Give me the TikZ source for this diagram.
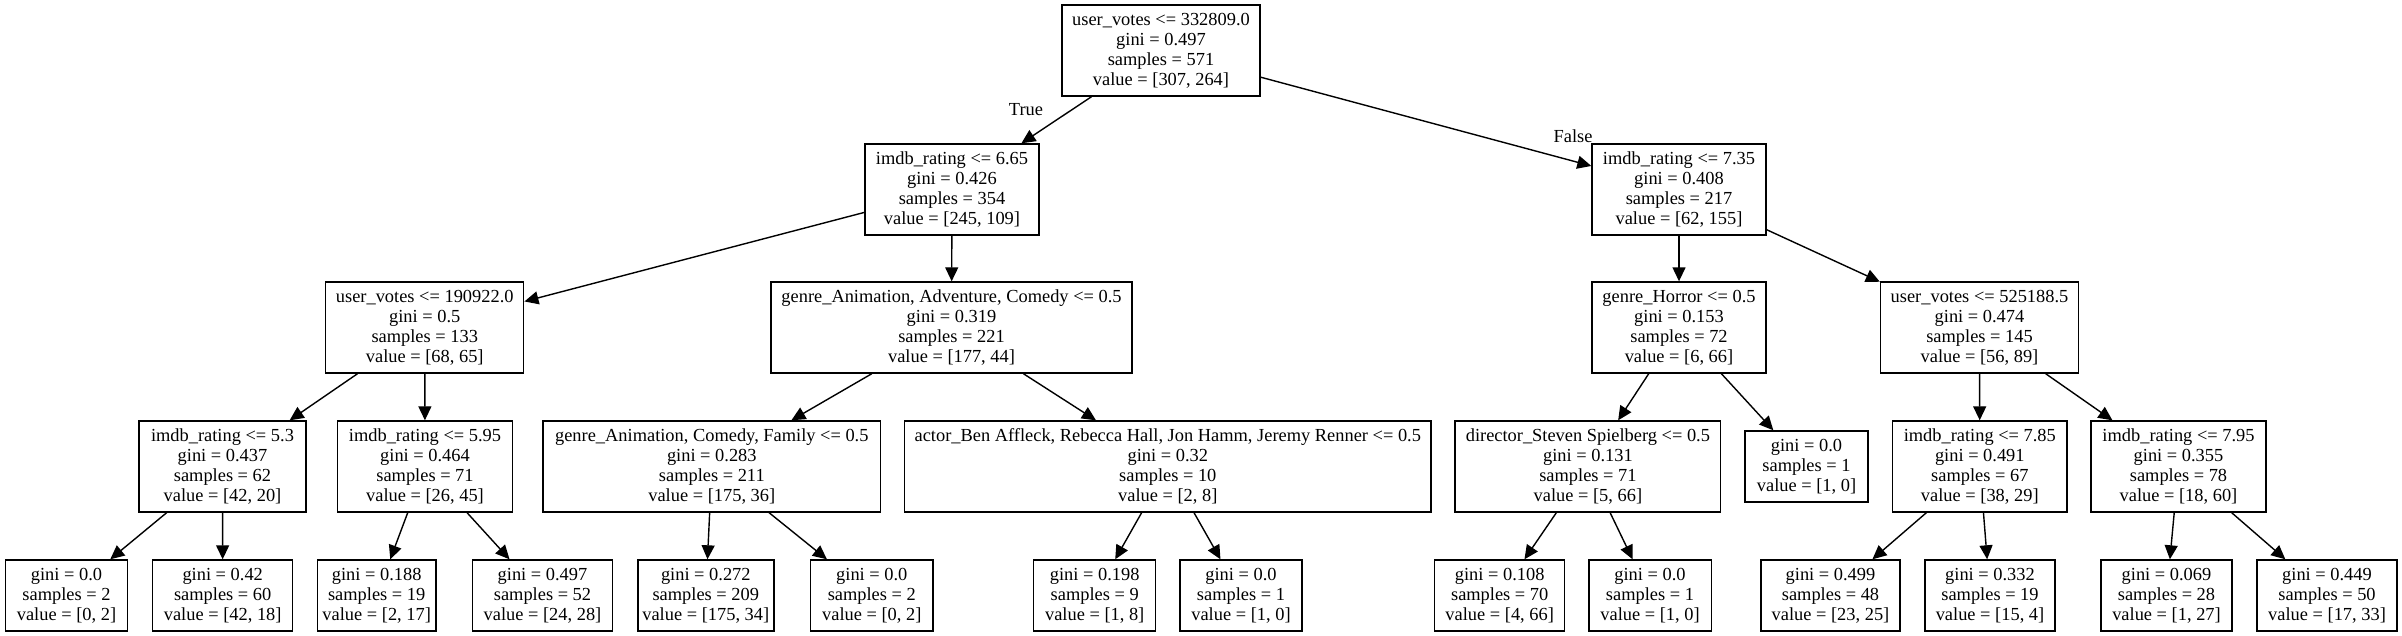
\documentclass[tikz,border=0pt]{standalone}
\usepackage{fontspec}
\setmainfont{Liberation Serif}
\usetikzlibrary{arrows.meta}

\begin{document}
\begin{tikzpicture}[x=0.5pt,y=-0.5pt]
\tikzstyle{every node}+=[inner sep=0pt, align=center, font=\fontsize{9.2}{10}\selectfont]
\tikzstyle{split}=[draw, line width=0.7pt, minimum height=45.5pt]
\tikzstyle{leaf}=[draw, line width=0.7pt, minimum height=35.5pt]
\tikzstyle{edge}=[line width=0.7pt, -{Triangle[length=7pt,width=6.5pt]}]
\useasboundingbox (0,0) rectangle (2402,636);
% root and first split
\node [split, minimum width=99pt] (root) at (1161,50.5) {user\_votes <= 332809.0\\gini = 0.497\\samples = 571\\value = [307, 264]};
\node [split, minimum width=87pt] (imdbA) at (952,189.5) {imdb\_rating <= 6.65\\gini = 0.426\\samples = 354\\value = [245, 109]};
\node [split, minimum width=87pt] (imdbB) at (1679,189.5) {imdb\_rating <= 7.35\\gini = 0.408\\samples = 217\\value = [62, 155]};
% second level
\node [split, minimum width=99pt] (votesA) at (424.75,327.5) {user\_votes <= 190922.0\\gini = 0.5\\samples = 133\\value = [68, 65]};
\node [split, minimum width=180.5pt] (genreA) at (951.5,327.5) {genre\_Animation, Adventure, Comedy <= 0.5\\gini = 0.319\\samples = 221\\value = [177, 44]};
\node [split, minimum width=87pt] (horror) at (1679,327.5) {genre\_Horror <= 0.5\\gini = 0.153\\samples = 72\\value = [6, 66]};
\node [split, minimum width=99pt] (votesB) at (1979.5,327.5) {user\_votes <= 525188.5\\gini = 0.474\\samples = 145\\value = [56, 89]};
% third level
\node [split, minimum width=83.5pt] (imdbC) at (222.5,466.5) {imdb\_rating <= 5.3\\gini = 0.437\\samples = 62\\value = [42, 20]};
\node [split, minimum width=87.5pt] (imdbD) at (425,466.5) {imdb\_rating <= 5.95\\gini = 0.464\\samples = 71\\value = [26, 45]};
\node [split, minimum width=168.8pt] (genreB) at (711.8,466.5) {genre\_Animation, Comedy, Family <= 0.5\\gini = 0.283\\samples = 211\\value = [175, 36]};
\node [split, minimum width=263.2pt] (actor) at (1167.8,466.5) {actor\_Ben Affleck, Rebecca Hall, Jon Hamm, Jeremy Renner <= 0.5\\gini = 0.32\\samples = 10\\value = [2, 8]};
\node [split, minimum width=132.8pt] (director) at (1587.9,466.5) {director\_Steven Spielberg <= 0.5\\gini = 0.131\\samples = 71\\value = [5, 66]};
\node [leaf, minimum width=61.5pt] (leafM) at (1806.5,466.5) {gini = 0.0\\samples = 1\\value = [1, 0]};
\node [split, minimum width=87.2pt] (imdbE) at (1979.8,466.5) {imdb\_rating <= 7.85\\gini = 0.491\\samples = 67\\value = [38, 29]};
\node [split, minimum width=87.5pt] (imdbF) at (2178.5,466.5) {imdb\_rating <= 7.95\\gini = 0.355\\samples = 78\\value = [18, 60]};
% leaves
\node [leaf, minimum width=60.8pt] (leafA) at (66.5,595.5) {gini = 0.0\\samples = 2\\value = [0, 2]};
\node [leaf, minimum width=70pt] (leafB) at (222.7,595.5) {gini = 0.42\\samples = 60\\value = [42, 18]};
\node [leaf, minimum width=59.2pt] (leafC) at (376.7,595.5) {gini = 0.188\\samples = 19\\value = [2, 17]};
\node [leaf, minimum width=70pt] (leafD) at (542.5,595.5) {gini = 0.497\\samples = 52\\value = [24, 28]};
\node [leaf, minimum width=68pt] (leafE) at (705.8,595.5) {gini = 0.272\\samples = 209\\value = [175, 34]};
\node [leaf, minimum width=61.2pt] (leafF) at (871.8,595.5) {gini = 0.0\\samples = 2\\value = [0, 2]};
\node [leaf, minimum width=61pt] (leafG) at (1094.7,595.5) {gini = 0.198\\samples = 9\\value = [1, 8]};
\node [leaf, minimum width=61pt] (leafH) at (1241,595.5) {gini = 0.0\\samples = 1\\value = [1, 0]};
\node [leaf, minimum width=65pt] (leafI) at (1499.7,595.5) {gini = 0.108\\samples = 70\\value = [4, 66]};
\node [leaf, minimum width=61.2pt] (leafJ) at (1650,595.5) {gini = 0.0\\samples = 1\\value = [1, 0]};
\node [leaf, minimum width=69.5pt] (leafK) at (1830.5,595.5) {gini = 0.499\\samples = 48\\value = [23, 25]};
\node [leaf, minimum width=65pt] (leafL) at (1990,595.5) {gini = 0.332\\samples = 19\\value = [15, 4]};
\node [leaf, minimum width=65.5pt] (leafN) at (2166.5,595.5) {gini = 0.069\\samples = 28\\value = [1, 27]};
\node [leaf, minimum width=70pt] (leafO) at (2327,595.5) {gini = 0.449\\samples = 50\\value = [17, 33]};
% edge labels
\node (truelbl) at (1026,110) {True};
\node (falselbl) at (1573,136) {False};
% edges
\draw [edge] (root) -- (imdbA);
\draw [edge] (root) -- (imdbB);
\draw [edge] (imdbA) -- (votesA);
\draw [edge] (imdbA) -- (genreA);
\draw [edge] (imdbB) -- (horror);
\draw [edge] (imdbB) -- (votesB);
\draw [edge] (votesA) -- (imdbC);
\draw [edge] (votesA) -- (imdbD);
\draw [edge] (genreA) -- (genreB);
\draw [edge] (genreA) -- (actor);
\draw [edge] (horror) -- (director);
\draw [edge] (horror) -- (leafM);
\draw [edge] (votesB) -- (imdbE);
\draw [edge] (votesB) -- (imdbF);
\draw [edge] (imdbC) -- (leafA);
\draw [edge] (imdbC) -- (leafB);
\draw [edge] (imdbD) -- (leafC);
\draw [edge] (imdbD) -- (leafD);
\draw [edge] (genreB) -- (leafE);
\draw [edge] (genreB) -- (leafF);
\draw [edge] (actor) -- (leafG);
\draw [edge] (actor) -- (leafH);
\draw [edge] (director) -- (leafI);
\draw [edge] (director) -- (leafJ);
\draw [edge] (imdbE) -- (leafK);
\draw [edge] (imdbE) -- (leafL);
\draw [edge] (imdbF) -- (leafN);
\draw [edge] (imdbF) -- (leafO);
\end{tikzpicture}
\end{document}
